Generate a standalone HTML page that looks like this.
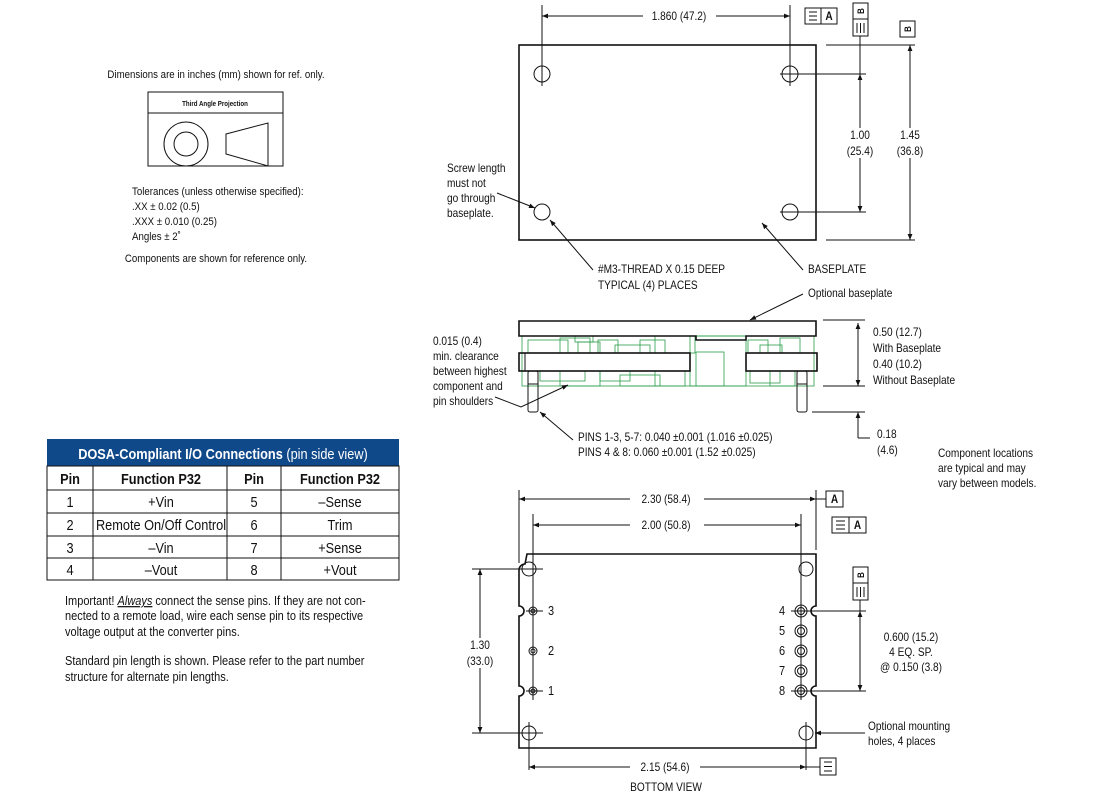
<!DOCTYPE html>
<html><head><meta charset="utf-8"><style>
html,body{margin:0;padding:0;background:#fff;}
svg{display:block;font-size:11.5px;font-family:"Liberation Sans",sans-serif;}
text{fill:#111;transform-box:fill-box;transform-origin:left center;transform:scaleX(0.88);}
text[text-anchor="middle"]{transform-origin:center center;}
.l{stroke:#111;stroke-width:1;fill:none;}
.t{stroke:#111;stroke-width:1.6;fill:none;}
.g{stroke:#2a9d4a;stroke-width:0.8;fill:none;}
</style></head><body>
<svg width="1120" height="801" viewBox="0 0 1120 801" xmlns="http://www.w3.org/2000/svg">
<defs>
<marker id="a" viewBox="0 0 10 10" refX="10" refY="5" markerWidth="10" markerHeight="6" orient="auto-start-reverse" markerUnits="userSpaceOnUse"><path d="M0,1 L10,5 L0,9 z" fill="#111"/></marker>
</defs>

<text x="216" y="78" text-anchor="middle" font-size="11">Dimensions are in inches (mm) shown for ref. only.</text>
<rect x="148" y="92" width="135" height="74" class="l"/>
<line x1="148" y1="113" x2="283" y2="113" class="l"/>
<text x="215" y="106" text-anchor="middle" font-size="7" font-weight="bold">Third Angle Projection</text>
<circle cx="186" cy="144" r="22" class="l"/>
<circle cx="186" cy="144" r="12" class="l"/>
<path d="M226,134 L268,123 L268,166 L226,154 Z" class="l"/>
<text x="132" y="195" font-size="11">Tolerances (unless otherwise specified):</text>
<text x="132" y="210" font-size="11">.XX ± 0.02 (0.5)</text>
<text x="132" y="225" font-size="11">.XXX ± 0.010 (0.25)</text>
<text x="132" y="240" font-size="11">Angles ± 2˚</text>
<text x="216" y="262" text-anchor="middle" font-size="11">Components are shown for reference only.</text>

<rect x="47" y="439" width="352" height="27" fill="#10498a"/>
<text x="223" y="459" text-anchor="middle" font-size="14.5" style="fill:#fff"><tspan font-weight="bold" style="fill:#fff">DOSA-Compliant I/O Connections</tspan> (pin side view)</text>
<rect x="47" y="466" width="352" height="114" class="l"/>
<g class="l">
<line x1="47" y1="490" x2="399" y2="490"/><line x1="47" y1="513" x2="399" y2="513"/>
<line x1="47" y1="536" x2="399" y2="536"/><line x1="47" y1="558" x2="399" y2="558"/>
<line x1="93" y1="466" x2="93" y2="580"/><line x1="227" y1="466" x2="227" y2="580"/><line x1="281" y1="466" x2="281" y2="580"/>
</g>
<g font-size="14.5">
<text x="70" y="484" font-weight="bold" text-anchor="middle">Pin</text><text x="161" y="484" font-weight="bold" text-anchor="middle">Function P32</text>
<text x="254" y="484" font-weight="bold" text-anchor="middle">Pin</text><text x="340" y="484" font-weight="bold" text-anchor="middle">Function P32</text>
<text x="70" y="507" text-anchor="middle">1</text><text x="161" y="507" text-anchor="middle">+Vin</text><text x="254" y="507" text-anchor="middle">5</text><text x="340" y="507" text-anchor="middle">–Sense</text>
<text x="70" y="530" text-anchor="middle">2</text><text x="161" y="530" text-anchor="middle">Remote On/Off Control</text><text x="254" y="530" text-anchor="middle">6</text><text x="340" y="530" text-anchor="middle">Trim</text>
<text x="70" y="553" text-anchor="middle">3</text><text x="161" y="553" text-anchor="middle">–Vin</text><text x="254" y="553" text-anchor="middle">7</text><text x="340" y="553" text-anchor="middle">+Sense</text>
<text x="70" y="575" text-anchor="middle">4</text><text x="161" y="575" text-anchor="middle">–Vout</text><text x="254" y="575" text-anchor="middle">8</text><text x="340" y="575" text-anchor="middle">+Vout</text>
</g>
<g font-size="12.5">
<text x="65" y="605">Important! <tspan font-style="italic" text-decoration="underline">Always</tspan> connect the sense pins. If they are not con-</text>
<text x="65" y="620">nected to a remote load, wire each sense pin to its respective</text>
<text x="65" y="636">voltage output at the converter pins.</text>
<text x="65" y="665">Standard pin length is shown. Please refer to the part number</text>
<text x="65" y="681">structure for alternate pin lengths.</text>
</g>

<!-- TOP VIEW -->
<rect x="519" y="45" width="297" height="195" class="t"/>
<circle cx="542" cy="74" r="8" class="l"/><circle cx="790" cy="74" r="8" class="l"/>
<circle cx="542" cy="212" r="8" class="l"/><circle cx="790" cy="212" r="8" class="l"/>
<line x1="542" y1="5" x2="542" y2="86" class="l"/><line x1="790" y1="5" x2="790" y2="86" class="l"/>
<line x1="780" y1="74" x2="866" y2="74" class="l"/><line x1="780" y1="212" x2="866" y2="212" class="l"/>
<line x1="643" y1="16" x2="542" y2="16" class="l" marker-end="url(#a)"/>
<line x1="716" y1="16" x2="790" y2="16" class="l" marker-end="url(#a)"/>
<text x="679" y="20" text-anchor="middle">1.860 (47.2)</text>
<rect x="805" y="8" width="32" height="16" class="l"/><line x1="821" y1="8" x2="821" y2="24" class="l"/>
<line x1="809" y1="12" x2="817" y2="12" class="l"/><line x1="809" y1="16" x2="817" y2="16" class="l"/><line x1="809" y1="20" x2="817" y2="20" class="l"/>
<text x="829" y="20" text-anchor="middle" font-weight="bold">A</text>
<rect x="853" y="3" width="15" height="33" class="l"/><line x1="853" y1="19" x2="868" y2="19" class="l"/>
<g transform="translate(864,11) rotate(-90)"><text x="0" y="0" text-anchor="middle" font-size="9" font-weight="bold">B</text></g>
<line x1="857" y1="23" x2="857" y2="33" class="l"/><line x1="860.5" y1="23" x2="860.5" y2="33" class="l"/><line x1="864" y1="23" x2="864" y2="33" class="l"/>
<line x1="860" y1="36" x2="860" y2="74" class="l"/>
<line x1="860" y1="128" x2="860" y2="74" class="l" marker-end="url(#a)"/>
<line x1="860" y1="158" x2="860" y2="212" class="l" marker-end="url(#a)"/>
<text x="860" y="139" text-anchor="middle">1.00</text><text x="860" y="155" text-anchor="middle">(25.4)</text>
<rect x="900" y="21" width="15" height="16" class="l"/>
<g transform="translate(911,29) rotate(-90)"><text x="0" y="0" text-anchor="middle" font-size="9" font-weight="bold">B</text></g>
<line x1="826" y1="45" x2="915" y2="45" class="l"/><line x1="826" y1="240" x2="915" y2="240" class="l"/>
<line x1="910" y1="128" x2="910" y2="45" class="l" marker-end="url(#a)"/>
<line x1="910" y1="158" x2="910" y2="240" class="l" marker-end="url(#a)"/>
<text x="910" y="139" text-anchor="middle">1.45</text><text x="910" y="155" text-anchor="middle">(36.8)</text>
<text x="447" y="172">Screw length</text><text x="447" y="187">must not</text><text x="447" y="202">go through</text><text x="447" y="217">baseplate.</text>
<line x1="497" y1="193" x2="535" y2="208" class="l" marker-end="url(#a)"/>
<line x1="593" y1="270" x2="550" y2="220" class="l" marker-end="url(#a)"/>
<text x="598" y="273">#M3-THREAD X 0.15 DEEP</text><text x="598" y="289">TYPICAL (4) PLACES</text>
<line x1="803" y1="270" x2="762" y2="223" class="l" marker-end="url(#a)"/>
<text x="808" y="273">BASEPLATE</text>

<!-- SIDE VIEW -->
<g class="g">
<rect x="522" y="336" width="292" height="50"/>
<rect x="528" y="340" width="40" height="13"/><rect x="560" y="338" width="30" height="15"/><rect x="578" y="342" width="22" height="11"/>
<rect x="598" y="340" width="20" height="13"/><rect x="615" y="345" width="35" height="8"/><rect x="640" y="340" width="25" height="13"/>
<rect x="655" y="336" width="40" height="17"/><rect x="690" y="336" width="56" height="50"/><rect x="696" y="352" width="28" height="34"/>
<rect x="748" y="340" width="20" height="13"/><rect x="760" y="345" width="22" height="8"/><rect x="780" y="338" width="20" height="15"/>
<rect x="540" y="371" width="45" height="10"/><rect x="560" y="371" width="40" height="15"/><rect x="600" y="371" width="30" height="10"/>
<rect x="620" y="375" width="40" height="11"/><rect x="655" y="371" width="30" height="15"/><rect x="750" y="371" width="30" height="12"/>
<rect x="770" y="371" width="25" height="15"/><rect x="575" y="336" width="18" height="6"/>
</g>
<path d="M519,321 H816 V336 H746 V340 H696 V336 H519 Z" class="t" fill="#fff"/>
<rect x="519" y="353" width="171" height="18" class="t" fill="#fff"/>
<line x1="525" y1="353" x2="525" y2="371" class="l"/>
<rect x="746" y="353" width="71" height="18" class="t" fill="#fff"/>
<rect x="528" y="371" width="10" height="41" rx="2" class="l" fill="#fff"/><line x1="528" y1="384" x2="538" y2="384" class="l"/>
<rect x="797" y="371" width="10" height="41" rx="2" class="l" fill="#fff"/><line x1="797" y1="384" x2="807" y2="384" class="l"/>
<line x1="823" y1="320" x2="865" y2="320" class="l"/><line x1="823" y1="386" x2="865" y2="386" class="l"/>
<line x1="858" y1="323" x2="858" y2="386" class="l" marker-start="url(#a)" marker-end="url(#a)"/>
<text x="873" y="336">0.50 (12.7)</text><text x="873" y="352">With Baseplate</text>
<text x="873" y="368">0.40 (10.2)</text><text x="873" y="384">Without Baseplate</text>
<line x1="812" y1="412" x2="865" y2="412" class="l"/>
<line x1="858" y1="438" x2="858" y2="412" class="l" marker-end="url(#a)"/><line x1="858" y1="438" x2="870" y2="438" class="l"/>
<text x="877" y="438">0.18</text><text x="877" y="454">(4.6)</text>
<line x1="803" y1="294" x2="750" y2="320" class="l" marker-end="url(#a)"/>
<text x="808" y="297">Optional baseplate</text>
<text x="433" y="345">0.015 (0.4)</text><text x="433" y="360">min. clearance</text><text x="433" y="375">between highest</text>
<text x="433" y="390">component and</text><text x="433" y="405">pin shoulders</text>
<path d="M495,397 L521,407 L568,385" class="l" marker-end="url(#a)"/>
<line x1="573" y1="440" x2="540" y2="412" class="l" marker-end="url(#a)"/>
<text x="578" y="441">PINS 1-3, 5-7: 0.040 ±0.001 (1.016 ±0.025)</text>
<text x="578" y="456">PINS 4 &amp; 8: 0.060 ±0.001 (1.52 ±0.025)</text>
<text x="938" y="457">Component locations</text><text x="938" y="472">are typical and may</text><text x="938" y="487">vary between models.</text>

<!-- BOTTOM VIEW -->
<path d="M527,554 H816 V606 A5,5 0 0 0 816,616 V686 A5,5 0 0 0 816,696 V748 H519 V696 A5,5 0 0 0 519,686 V616 A5,5 0 0 0 519,606 V570 A6,6 0 0 1 525,564 Z" class="t"/>
<line x1="519" y1="490" x2="519" y2="563" class="l"/><line x1="816" y1="490" x2="816" y2="550" class="l"/>
<line x1="533" y1="514" x2="533" y2="700" class="l"/><line x1="801" y1="514" x2="801" y2="700" class="l"/>
<line x1="630" y1="499" x2="519" y2="499" class="l" marker-end="url(#a)"/><line x1="704" y1="499" x2="816" y2="499" class="l" marker-end="url(#a)"/>
<text x="666" y="503" text-anchor="middle">2.30 (58.4)</text>
<line x1="816" y1="499" x2="826" y2="499" class="l"/>
<rect x="826" y="491" width="17" height="16" class="l"/><text x="834.5" y="503" text-anchor="middle" font-weight="bold">A</text>
<line x1="630" y1="525" x2="533" y2="525" class="l" marker-end="url(#a)"/><line x1="704" y1="525" x2="801" y2="525" class="l" marker-end="url(#a)"/>
<text x="666" y="529" text-anchor="middle">2.00 (50.8)</text>
<rect x="832" y="517" width="34" height="16" class="l"/><line x1="849" y1="517" x2="849" y2="533" class="l"/>
<line x1="836" y1="521" x2="845" y2="521" class="l"/><line x1="836" y1="525" x2="845" y2="525" class="l"/><line x1="836" y1="529" x2="845" y2="529" class="l"/>
<text x="857.5" y="529" text-anchor="middle" font-weight="bold">A</text>
<circle cx="529" cy="569" r="7" class="l"/><circle cx="806" cy="569" r="7" class="l"/>
<circle cx="529" cy="733" r="7" class="l"/><circle cx="806" cy="733" r="7" class="l"/>
<line x1="472" y1="569" x2="543" y2="569" class="l"/><line x1="472" y1="733" x2="543" y2="733" class="l"/>
<line x1="529" y1="722" x2="529" y2="770" class="l"/><line x1="806" y1="722" x2="806" y2="770" class="l"/>
<line x1="480" y1="638" x2="480" y2="569" class="l" marker-end="url(#a)"/><line x1="480" y1="668" x2="480" y2="733" class="l" marker-end="url(#a)"/>
<text x="480" y="649" text-anchor="middle">1.30</text><text x="480" y="665" text-anchor="middle">(33.0)</text>
<g class="l">
<circle cx="533" cy="611" r="4"/><circle cx="533" cy="611" r="2"/>
<circle cx="533" cy="651" r="4"/><circle cx="533" cy="651" r="2"/>
<circle cx="533" cy="691" r="4"/><circle cx="533" cy="691" r="2"/>
<line x1="526" y1="611" x2="543" y2="611"/><line x1="526" y1="691" x2="543" y2="691"/>
<circle cx="801" cy="611" r="6"/><circle cx="801" cy="611" r="3.5"/>
<circle cx="801" cy="631" r="6"/><circle cx="801" cy="631" r="3.5"/>
<circle cx="801" cy="651" r="6"/><circle cx="801" cy="651" r="3.5"/>
<circle cx="801" cy="671" r="6"/><circle cx="801" cy="671" r="3.5"/>
<circle cx="801" cy="691" r="6"/><circle cx="801" cy="691" r="3.5"/>
<line x1="791" y1="611" x2="866" y2="611"/><line x1="791" y1="691" x2="866" y2="691"/>
</g>
<g font-size="12.5">
<text x="548" y="615">3</text><text x="548" y="655">2</text><text x="548" y="695">1</text>
<text x="779" y="615">4</text><text x="779" y="635">5</text><text x="779" y="655">6</text>
<text x="779" y="675">7</text><text x="779" y="695">8</text>
</g>
<rect x="853" y="567" width="15" height="33" class="l"/><line x1="853" y1="583" x2="868" y2="583" class="l"/>
<g transform="translate(864,575) rotate(-90)"><text x="0" y="0" text-anchor="middle" font-size="9" font-weight="bold">B</text></g>
<line x1="857" y1="587" x2="857" y2="597" class="l"/><line x1="860.5" y1="587" x2="860.5" y2="597" class="l"/><line x1="864" y1="587" x2="864" y2="597" class="l"/>
<line x1="860" y1="600" x2="860" y2="611" class="l"/>
<line x1="860" y1="611" x2="860" y2="691" class="l" marker-start="url(#a)" marker-end="url(#a)"/>
<text x="911" y="641" text-anchor="middle">0.600 (15.2)</text><text x="911" y="656" text-anchor="middle">4 EQ. SP.</text><text x="911" y="671" text-anchor="middle">@ 0.150 (3.8)</text>
<line x1="865" y1="733" x2="815" y2="733" class="l" marker-end="url(#a)"/>
<text x="868" y="730">Optional mounting</text><text x="868" y="745">holes, 4 places</text>
<line x1="630" y1="767" x2="529" y2="767" class="l" marker-end="url(#a)"/><line x1="700" y1="767" x2="806" y2="767" class="l" marker-end="url(#a)"/>
<text x="665" y="771" text-anchor="middle">2.15 (54.6)</text>
<line x1="806" y1="767" x2="820" y2="767" class="l"/>
<rect x="820" y="758" width="16" height="17" class="l"/>
<line x1="824" y1="762" x2="832" y2="762" class="l"/><line x1="824" y1="766.5" x2="832" y2="766.5" class="l"/><line x1="824" y1="771" x2="832" y2="771" class="l"/>
<text x="666" y="791" text-anchor="middle">BOTTOM VIEW</text>
</svg>
</body></html>
